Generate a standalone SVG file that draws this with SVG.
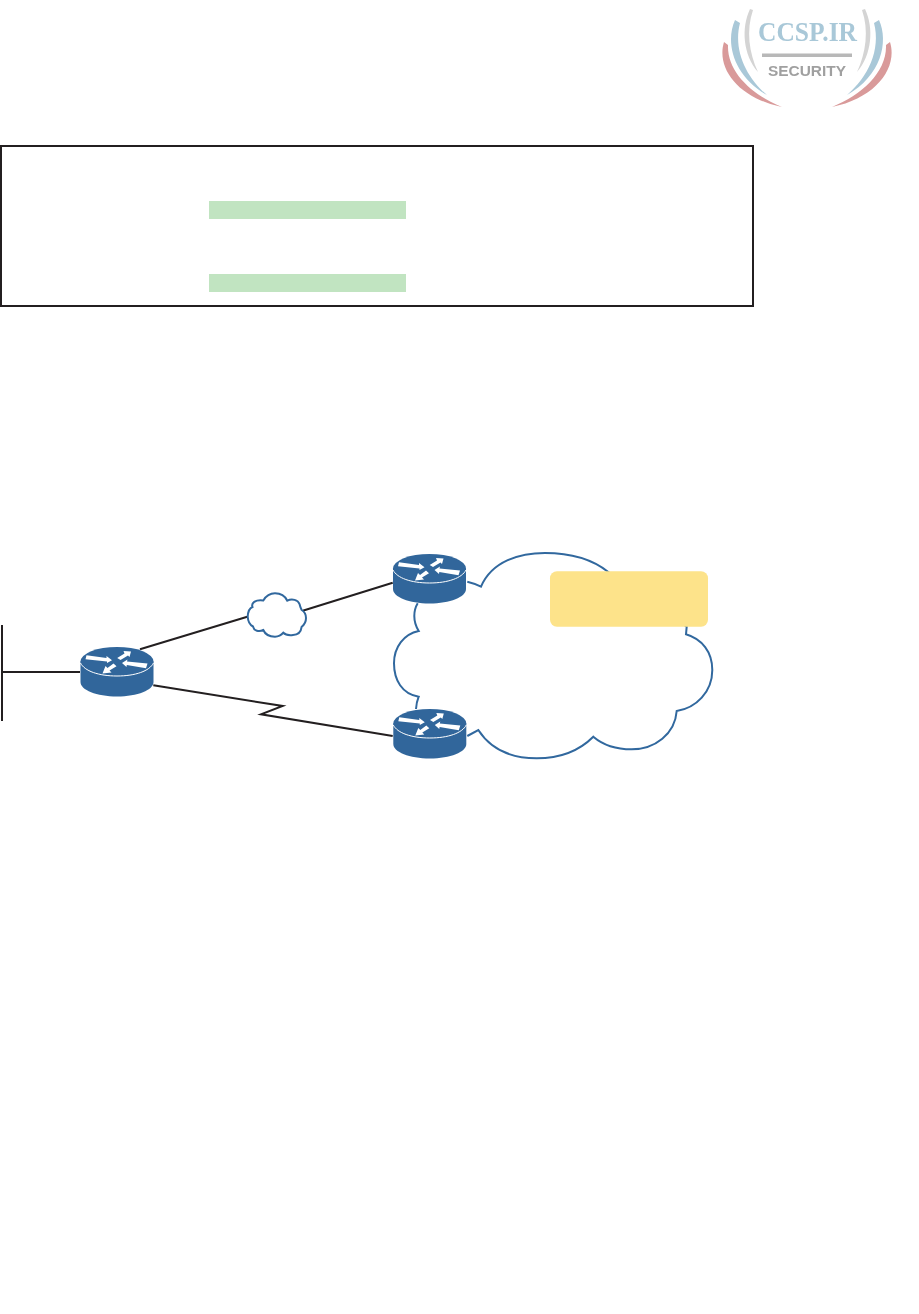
<svg xmlns="http://www.w3.org/2000/svg" width="919" height="1314" viewBox="0 0 919 1314">
<style>
.link{fill:none;stroke:#231f20;stroke-width:2}
.cloud{fill:#fff;stroke:#31689e;stroke-width:2;stroke-linejoin:miter}
.hl{fill:#c1e4c1}
.body{fill:#31669b}
.arr{fill:#fff}
</style>
<defs>
<filter id="soft" x="-5%" y="-5%" width="110%" height="110%"><feGaussianBlur stdDeviation="0.6"/></filter>
<g id="router">
<path class="body" d="M0 14.500V35C0 43 16 49.500 36.500 49.500S73 43 73 35V14.500Z"/>
<ellipse class="body" cx="36.500" cy="14.500" rx="36.500" ry="14.500"/>
<path d="M0 16C4 24 18 29 36.500 29S69 24 73 16" fill="none" stroke="#fff" stroke-width="1"/>
<path class="arr" d="M6 8.300L26 11L26 9L31.500 13.300L26.500 16L26.500 14.500L5 12.300Z"/>
<path class="arr" d="M36.700 11L44 6.500L43 4L50.500 4.500L49 10L47.500 8.500L40 13Z"/>
<path class="arr" d="M67 16.500L46.500 14.500L47 12.500L41.500 16L46 20L46.300 18L65.500 21.200Z"/>
<path class="arr" d="M33 16.500L27 21L25 19L22 26.500L31 25.500L29 23.500L36 19.300Z"/>
</g>
</defs>
<g id="logo" filter="url(#soft)">
<path d="M750 9C741 28 743 55 758 72C749 53 746 30 753 10Z" fill="#d4d4d4"/>
<path d="M735 20C725 42 733 76 767 95C746 77 733 50 740 23Z" fill="#a9c8d8"/>
<path d="M724 42C716 68 738 98 782 107C752 95 727 72 728 45Z" fill="#d99a9a"/>
<path d="M865 9C874 28 872 55 857 72C866 53 869 30 862 10Z" fill="#d4d4d4"/>
<path d="M879 20C889 42 881 76 847 95C868 77 881 50 874 23Z" fill="#a9c8d8"/>
<path d="M890 42C898 68 876 98 832 107C862 95 887 72 886 45Z" fill="#d99a9a"/>
<text x="758" y="41" font-family="'Liberation Serif',serif" font-size="27" font-weight="bold" textLength="99" lengthAdjust="spacingAndGlyphs" fill="#a9c8d8">CCSP.IR</text>
<rect x="762" y="53.500" width="90" height="3.500" fill="#b8b8b8"/>
<text x="768" y="76" font-family="'Liberation Sans',sans-serif" font-size="14" font-weight="bold" textLength="78" lengthAdjust="spacingAndGlyphs" fill="#a0a0a0">SECURITY</text>
</g>
<g id="panel">
<rect x="1" y="146" width="752" height="160" fill="#fff" stroke="#231f20" stroke-width="2"/>
<rect class="hl" x="209" y="201" width="197" height="18"/>
<rect class="hl" x="209" y="274" width="197" height="18"/>
</g>
<g id="connectors">
<path class="link" d="M2 625V721M3 672H80"/>
<path class="link" d="M140 649.300L247.300 616.700M302.700 610.700L392.700 582.700"/>
<path class="link" d="M153.300 685.300L282.700 706L261 714.300L392.700 736"/>
</g>
<g id="wan-cloud">
<path class="cloud" d="M467.300 581.700Q475 583.500 481 586.700C492 561 520 553 545 553C570 553 592 559 608.300 572L686.700 626.700L686 634.300C702 639 712.300 652 712.300 670C712.300 692 696 708 676.700 711C675 734 655 749.300 631.700 749.300C616 749.300 603 745 593.300 736.700C580 750 560 758.300 536.700 758.300C510 758.300 490 748 478.300 730L467.300 736M416 709Q416.500 702 418.700 696.700C402 694 394 680 394 663.300C394 647 404 634 418.700 631C415 625 414.300 620 414.300 616Q414.300 609 417.700 603.300"/>
</g>
<g id="wan-label"><rect x="550" y="571.300" width="158" height="55.400" rx="7" fill="#fde38a"/></g>
<g id="small-cloud">
<path class="cloud" d="M247.700 616.700C248 611 250 608 252.500 607C251 603 255 599.500 263.300 600.500C266 596 270 593.300 275 593.300C281 593.300 285 596 287.300 600.700C292 598 298 600 299.500 604C300 606 300.500 608 301.700 610C305 612 306 615 306 618C306 622 304 625 301.700 626.700C301 632 298 635 293 635C289 635.500 285 634.500 283.300 632.700C281 635.500 278 636.700 275 636.700C269 636.700 265 634 263.300 630C259 632 254 631 253 626.500C250 625 248 621 247.700 616.700Z"/>
</g>
<use id="router-left" href="#router" x="80.500" y="647"/>
<use id="router-top" href="#router" x="393" y="554"/>
<use id="router-bottom" href="#router" x="393.300" y="709"/>
</svg>
